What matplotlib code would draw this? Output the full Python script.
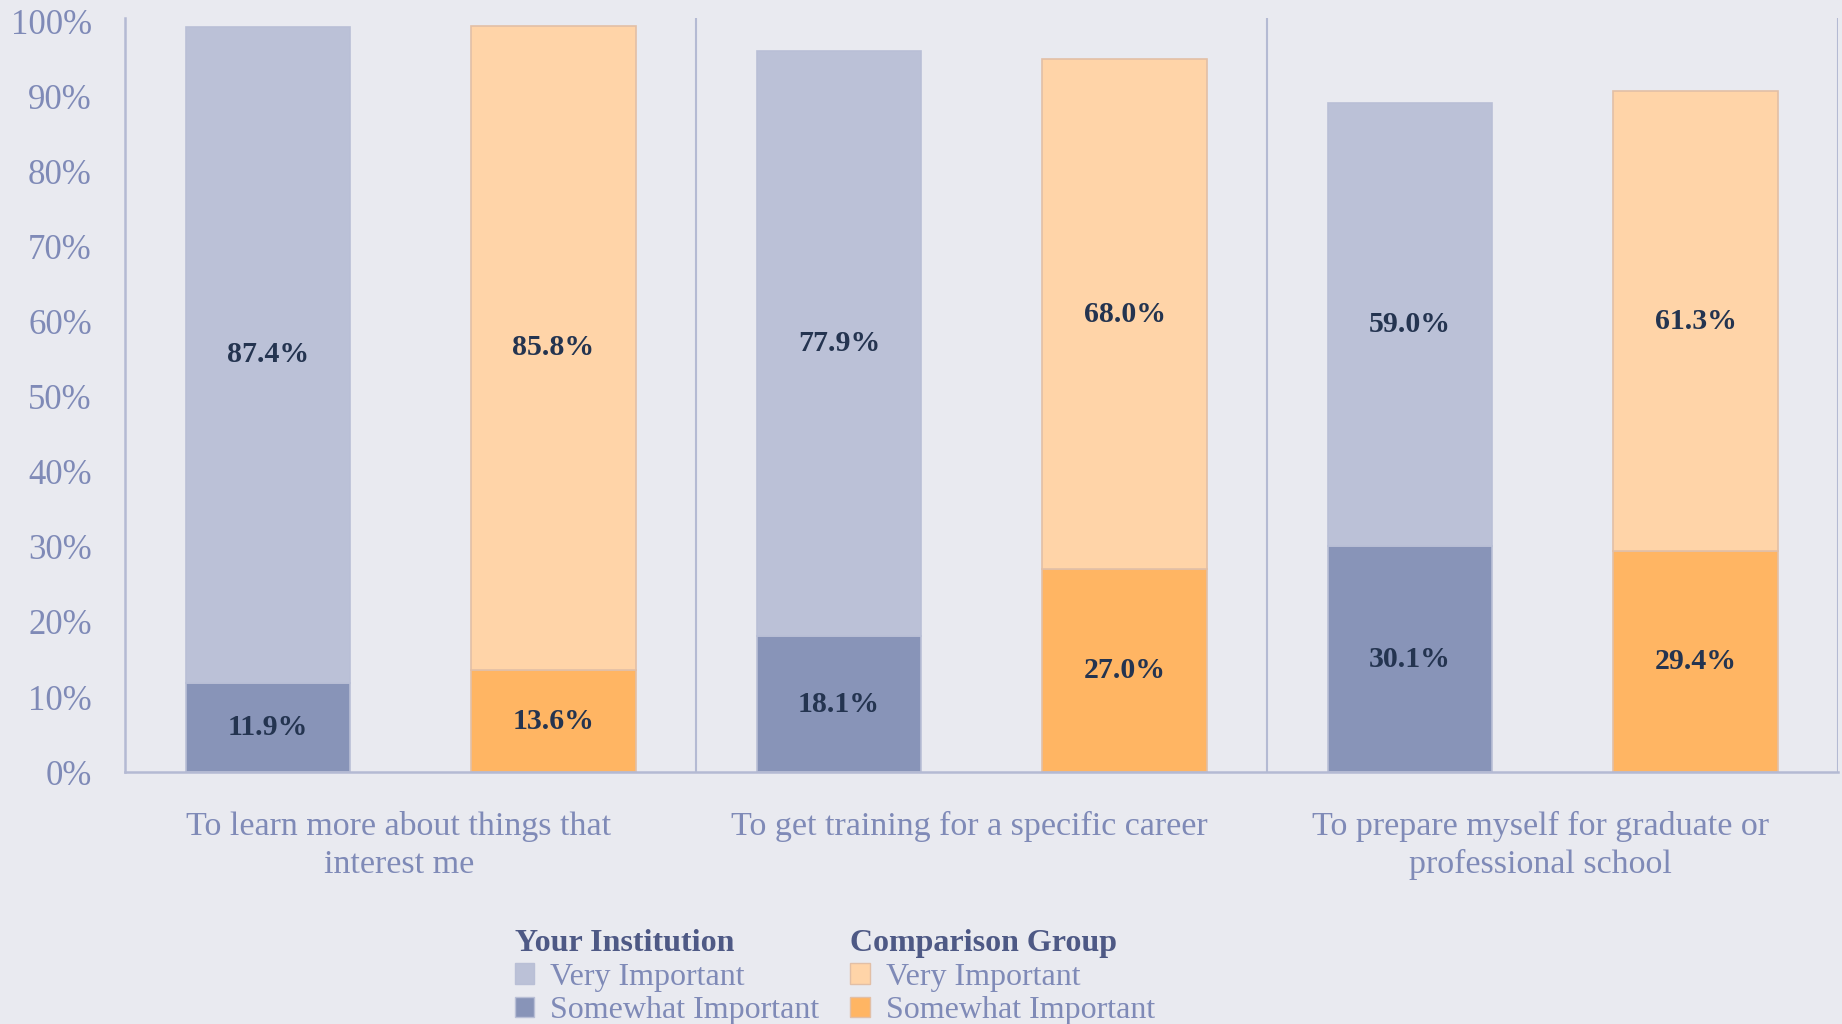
"""Stacked bars: reasons for attending, your institution vs comparison group."""

import matplotlib

matplotlib.use("Agg")
import matplotlib.pyplot as plt
import matplotlib.transforms as mtransforms
import numpy as np
from matplotlib.patches import Patch

CATEGORIES = [
    "To learn more about things that\ninterest me",
    "To get training for a specific career",
    "To prepare myself for graduate or\nprofessional school",
]
INST_SOMEWHAT = [11.9, 18.1, 30.1]
INST_VERY = [87.4, 77.9, 59.0]
COMP_SOMEWHAT = [13.6, 27.0, 29.4]
COMP_VERY = [85.8, 68.0, 61.3]
Y_TICKS = [0, 10, 20, 30, 40, 50, 60, 70, 80, 90, 100]

BG = "#E9EAF0"
AXIS_LINE = "#B4BAD3"
TICK_TEXT = "#7F8AB7"
LABEL_TEXT = "#243450"
TITLE_TEXT = "#4E5985"
INST_LIGHT, INST_DARK = "#BBC1D7", "#8894B8"
COMP_LIGHT, COMP_DARK = "#FFD4A8", "#FFB563"

plt.rcParams["font.family"] = ["Liberation Serif", "DejaVu Serif"]

fig = plt.figure(figsize=(18.42, 10.24), dpi=100, facecolor=BG)
ax = fig.add_axes([0.068, 0.246, 0.930, 0.736], facecolor=BG)

x = np.arange(len(CATEGORIES))
width = 0.288
offset = 0.25

series = [
    (x - offset, INST_SOMEWHAT, INST_VERY, INST_DARK, INST_LIGHT, "#B9BFD6"),
    (x + offset, COMP_SOMEWHAT, COMP_VERY, COMP_DARK, COMP_LIGHT, "#E2BFA6"),
]
for pos, low, high, c_dark, c_light, edge in series:
    ax.bar(pos, low, width, color=c_dark, edgecolor=edge, linewidth=1.2)
    ax.bar(pos, high, width, bottom=low, color=c_light, edgecolor=edge, linewidth=1.2)
    for xi, lo, hi in zip(pos, low, high):
        ax.text(xi, lo / 2, f"{lo:.1f}%", ha="center", va="center",
                fontsize=21.5, fontweight="bold", color=LABEL_TEXT)
        ax.text(xi, lo + hi / 2, f"{hi:.1f}%", ha="center", va="center",
                fontsize=21.5, fontweight="bold", color=LABEL_TEXT)

for b in [0.5, 1.5, 2.5]:
    ax.axvline(b, color=AXIS_LINE, linewidth=1.5)

ax.set_xlim(-0.5, 2.5)
ax.set_ylim(0, 100.4)
ax.set_yticks(Y_TICKS)
ax.set_yticklabels([f"{t}%" for t in Y_TICKS])
ax.set_xticks(x)
ax.set_xticklabels(CATEGORIES, linespacing=1.3)
ax.tick_params(axis="y", length=0, pad=24, labelsize=25, labelcolor=TICK_TEXT)
ax.tick_params(axis="x", length=0, pad=28, labelsize=24.5, labelcolor=TICK_TEXT)

# category labels sit a little left of the group centre in the original
shift = mtransforms.ScaledTranslation(-0.12, 0, fig.dpi_scale_trans)
for lbl in ax.get_xticklabels():
    lbl.set_transform(lbl.get_transform() + shift)

for side in ["top", "right"]:
    ax.spines[side].set_visible(False)
for side in ["left", "bottom"]:
    ax.spines[side].set_color(AXIS_LINE)
    ax.spines[side].set_linewidth(1.8)

legend_specs = [
    ("Your Institution", INST_LIGHT, INST_DARK, "#B9BFD6", 0.271),
    ("Comparison Group", COMP_LIGHT, COMP_DARK, "#E2BFA6", 0.453),
]
for title, c_light, c_dark, edge, lx in legend_specs:
    handles = [
        Patch(facecolor=c_light, edgecolor=edge, label="Very Important"),
        Patch(facecolor=c_dark, edgecolor=edge, label="Somewhat Important"),
    ]
    leg = fig.legend(
        handles=handles, title=title, loc="upper left",
        bbox_to_anchor=(lx, 0.108), frameon=False, fontsize=23,
        title_fontsize=23, handlelength=0.6, handleheight=0.6,
        handletextpad=0.5, labelspacing=0.14, borderpad=0,
        alignment="left", labelcolor=TICK_TEXT,
    )
    leg.get_title().set_fontweight("bold")
    leg.get_title().set_color(TITLE_TEXT)

fig.savefig("out.png", dpi=100, facecolor=BG)
